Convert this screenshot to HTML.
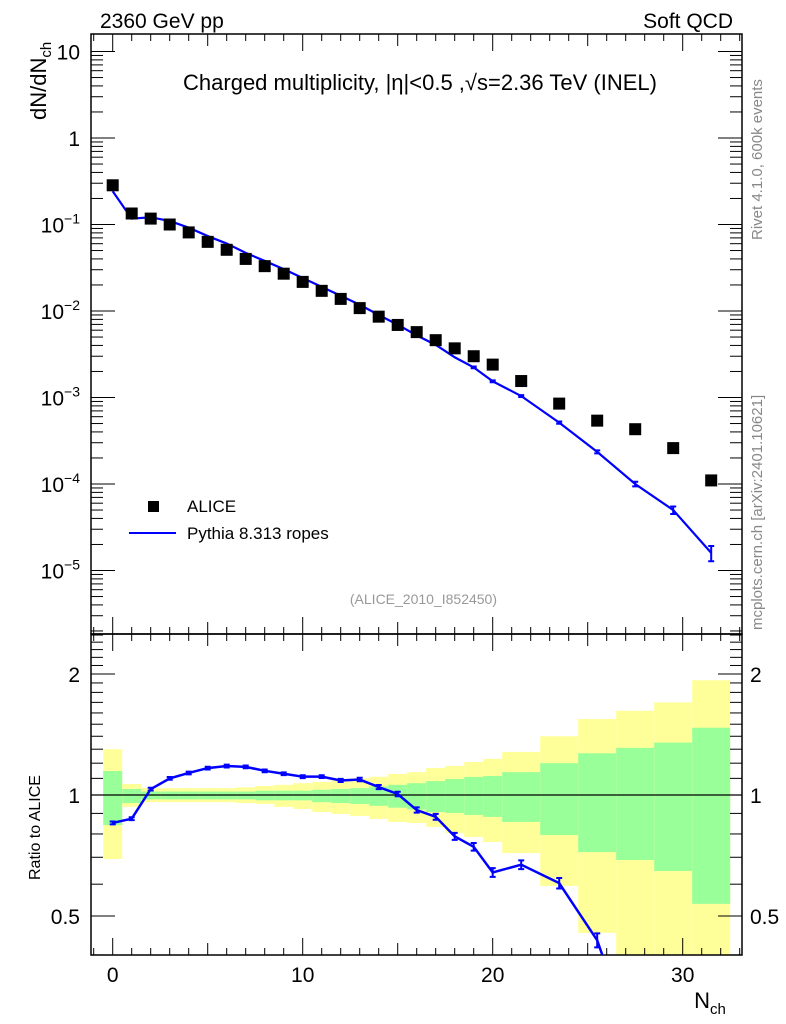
<!DOCTYPE html>
<html><head><meta charset="utf-8">
<style>
html,body{margin:0;padding:0;background:#fff;width:786px;height:1024px;overflow:hidden;}
svg{display:block;font-family:"Liberation Sans",Arial,sans-serif;}
</style></head>
<body>
<svg id="chart" width="786" height="1024" viewBox="0 0 786 1024">
<defs>
<clipPath id="clipMain"><rect x="91" y="34" width="651" height="600"/></clipPath>
<clipPath id="clipRatio"><rect x="91" y="634" width="651" height="321"/></clipPath>
</defs>
<g id="bands" clip-path="url(#clipRatio)"></g>
<g id="grid"></g>
<g id="marks"></g>
<text x="100" y="28" font-size="21">2360 GeV pp</text>
<text x="733" y="28" font-size="21" text-anchor="end">Soft QCD</text>
<text x="420" y="90" font-size="22" text-anchor="middle">Charged multiplicity, |η|&lt;0.5 ,√s=2.36 TeV (INEL)</text>
<text transform="translate(46,120) rotate(-90)" font-size="22">dN/dN<tspan font-size="15" dy="5">ch</tspan></text>
<text transform="translate(40,880) rotate(-90)" font-size="16">Ratio to ALICE</text>
<text x="710" y="1008" font-size="22" text-anchor="middle">N<tspan font-size="15" dy="6">ch</tspan></text>
<rect x="148" y="501" width="11" height="11" fill="#000"/>
<text x="187" y="512" font-size="17">ALICE</text>
<line x1="129" y1="533" x2="176" y2="533" stroke="#0000ff" stroke-width="2"/>
<text x="187" y="539" font-size="17">Pythia 8.313 ropes</text>
<text x="497" y="604" font-size="14" fill="#999" text-anchor="end">(ALICE_2010_I852450)</text>
<text transform="translate(762,240) rotate(-90)" font-size="15" fill="#888">Rivet 4.1.0,  600k events</text>
<text transform="translate(762,630) rotate(-90)" font-size="15" fill="#888">mcplots.cern.ch [arXiv:2401.10621]</text>
</svg>
<script>
const xs = [0,1,2,3,4,5,6,7,8,9,10,11,12,13,14,15,16,17,18,19,20,21.5,23.5,25.5,27.5,29.5,31.5];
const binLo = [-0.5,0.5,1.5,2.5,3.5,4.5,5.5,6.5,7.5,8.5,9.5,10.5,11.5,12.5,13.5,14.5,15.5,16.5,17.5,18.5,19.5,20.5,22.5,24.5,26.5,28.5,30.5];
const binHi = [0.5,1.5,2.5,3.5,4.5,5.5,6.5,7.5,8.5,9.5,10.5,11.5,12.5,13.5,14.5,15.5,16.5,17.5,18.5,19.5,20.5,22.5,24.5,26.5,28.5,30.5,32.5];
const alice = [0.284,0.134,0.117,0.1,0.081,0.063,0.051,0.040,0.033,0.027,0.0217,0.0171,0.0138,0.0108,0.0086,0.0069,0.0057,0.0046,0.0037,0.0030,0.0024,0.00155,8.5e-4,5.4e-4,4.3e-4,2.6e-4,1.1e-4];
const pythia = [0.242,0.117,0.121,0.110,0.0919,0.0735,0.0602,0.0470,0.0379,0.0305,0.0241,0.0190,0.0150,0.0118,0.0090,0.00694,0.00523,0.00406,0.00292,0.00223,0.00154,0.00104,5.13e-4,2.35e-4,1.0e-4,5.0e-5,1.6e-5];
const pyErr = [0.005,0.005,0.005,0.005,0.005,0.005,0.005,0.005,0.005,0.006,0.007,0.008,0.009,0.01,0.012,0.013,0.015,0.017,0.02,0.022,0.025,0.025,0.03,0.04,0.06,0.1,0.2];
const yellowUp = [1.30,1.065,1.04,1.04,1.04,1.04,1.04,1.045,1.053,1.06,1.07,1.077,1.09,1.10,1.11,1.128,1.14,1.167,1.181,1.208,1.23,1.28,1.40,1.545,1.62,1.70,1.93];
const yellowDn = [0.693,0.934,0.96,0.96,0.96,0.96,0.96,0.955,0.95,0.934,0.923,0.907,0.897,0.887,0.872,0.857,0.852,0.833,0.804,0.786,0.764,0.717,0.594,0.454,0.35,0.3,0.25];
const greenUp = [1.147,1.035,1.02,1.02,1.02,1.02,1.02,1.02,1.025,1.025,1.025,1.03,1.035,1.04,1.05,1.06,1.07,1.083,1.096,1.109,1.115,1.14,1.20,1.27,1.31,1.35,1.47];
const greenDn = [0.842,0.955,0.975,0.975,0.975,0.975,0.975,0.975,0.97,0.97,0.97,0.96,0.955,0.95,0.94,0.93,0.92,0.907,0.902,0.892,0.882,0.857,0.795,0.721,0.689,0.647,0.536];
const xTicks = [0,10,20,30];
const mainTicks = [1e-5,1e-4,1e-3,1e-2,1e-1,1,10];
const mainTickLabels = ["10<tspan dy='-9' font-size='14'>−5</tspan>","10<tspan dy='-9' font-size='14'>−4</tspan>","10<tspan dy='-9' font-size='14'>−3</tspan>","10<tspan dy='-9' font-size='14'>−2</tspan>","10<tspan dy='-9' font-size='14'>−1</tspan>","1","10"];
const ratioTicks = [0.5,1,2];
const ratioTickLabels = ["0.5","1","2"];

const L=91,R=742,T=34,MID=634,B=955;
const X = v => 112.7 + v*19.0;
const Y = v => 138 - Math.log10(v)*86.5;
const YR = v => 795 - Math.log10(v)*402;
const NS='http://www.w3.org/2000/svg';
function mk(parent, tag, attrs){const e=document.createElementNS(NS,tag);for(const k in attrs)e.setAttribute(k,attrs[k]);document.getElementById(parent).appendChild(e);return e;}

for(let i=0;i<xs.length;i++){
  const y=mk('bands','rect',{x:X(binLo[i]),y:YR(yellowUp[i]),width:X(binHi[i])-X(binLo[i]),height:YR(yellowDn[i])-YR(yellowUp[i]),fill:'#ffff99'});
  
  
  const g=mk('bands','rect',{x:X(binLo[i]),y:YR(greenUp[i]),width:X(binHi[i])-X(binLo[i]),height:YR(greenDn[i])-YR(greenUp[i]),fill:'#99ff99'});
  
  
}
function ln(x1,y1,x2,y2,w){const l=mk('grid','line',{x1,y1,x2,y2,stroke:'#000','stroke-width':w||1});return l;}
const f1=mk('grid','rect',{x:L,y:T,width:R-L,height:MID-T,fill:'none',stroke:'#000','stroke-width':1.5});


const f2=mk('grid','rect',{x:L,y:MID,width:R-L,height:B-MID,fill:'none',stroke:'#000','stroke-width':1.5});


const one=ln(L,YR(1),R,YR(1),1.2);


for(let v=-1;v<=33;v++){
  const major = v%10===0, mid = v%5===0;
  const len = major?17:(mid?12:7);
  const x=X(v);
  ln(x,T,x,T+len);ln(x,MID,x,MID-len);ln(x,MID,x,MID+len);ln(x,B,x,B-len);
}
xTicks.forEach(v=>{const t=mk('grid','text',{x:X(v),y:982,'font-size':21,'text-anchor':'middle'});t.textContent=v;
  
  });
for(let d=-6;d<=1;d++){for(let m=1;m<10;m++){const v=m*Math.pow(10,d);const y=Y(v);if(y<T||y>MID)continue;const len=m===1?24:12;ln(L,y,L+len,y);ln(R,y,R-len,y);}}
mainTicks.forEach((v,i)=>{const t=mk('grid','text',{x:80,y:Y(v)+8,'font-size':21,'text-anchor':'end'});t.innerHTML=mainTickLabels[i];
  
  });
[0.4,0.5,0.6,0.7,0.8,0.9,1,2].forEach(v=>{const y=YR(v);const len=(v===0.5||v===1||v===2)?24:12;ln(L,y,L+len,y);ln(R,y,R-len,y);});
[1.1,1.2,1.3,1.4,1.5,1.6,1.7,1.8,1.9,2.1,2.2,2.3,2.4,2.5].forEach(v=>{const y=YR(v);if(y<MID)return;ln(L,y,L+12,y);ln(R,y,R-12,y);});
ratioTicks.forEach((v,i)=>{const t=mk('grid','text',{x:80,y:YR(v)+8,'font-size':21,'text-anchor':'end'});t.textContent=ratioTickLabels[i];
  
  
  const t2=mk('grid','text',{x:750,y:YR(v)+8,'font-size':21});t2.textContent=ratioTickLabels[i];
  
  });
const mg=mk('marks','g',{'clip-path':'url(#clipMain)'});
mg.setAttribute('id','mainMarks');
const pl=mk('mainMarks','polyline',{points:xs.map((x,i)=>X(x)+','+Y(pythia[i])).join(' '),fill:'none',stroke:'#0000ff','stroke-width':2.2});


xs.forEach((x,i)=>{
  const e=pyErr[i]; if(e>0.02){const eb=mk('mainMarks','path',{d:`M${X(x)},${Y(pythia[i]*(1+e))}V${Y(pythia[i]*(1-e))}M${X(x)-3},${Y(pythia[i]*(1+e))}h6M${X(x)-3},${Y(pythia[i]*(1-e))}h6`,stroke:'#0000ff','stroke-width':2,fill:'none'});
  
  }
  const r=mk('mainMarks','rect',{x:X(x)-6,y:Y(alice[i])-6,width:12,height:12,fill:'#000'});
  
  
});
const rg=mk('marks','g',{'clip-path':'url(#clipRatio)'});
rg.setAttribute('id','ratioMarks');
const rl=mk('ratioMarks','polyline',{points:xs.map((x,i)=>X(x)+','+YR(pythia[i]/alice[i])).join(' '),fill:'none',stroke:'#0000ff','stroke-width':2.5});


xs.forEach((x,i)=>{const r=pythia[i]/alice[i],e=Math.max(pyErr[i],0.008);
  const eb=mk('ratioMarks','path',{d:`M${X(x)},${YR(r*(1+e))}V${YR(r*(1-e))}M${X(x)-3},${YR(r*(1+e))}h6M${X(x)-3},${YR(r*(1-e))}h6`,stroke:'#0000ff','stroke-width':2,fill:'none'});
  
  });
</script>
</body></html>
